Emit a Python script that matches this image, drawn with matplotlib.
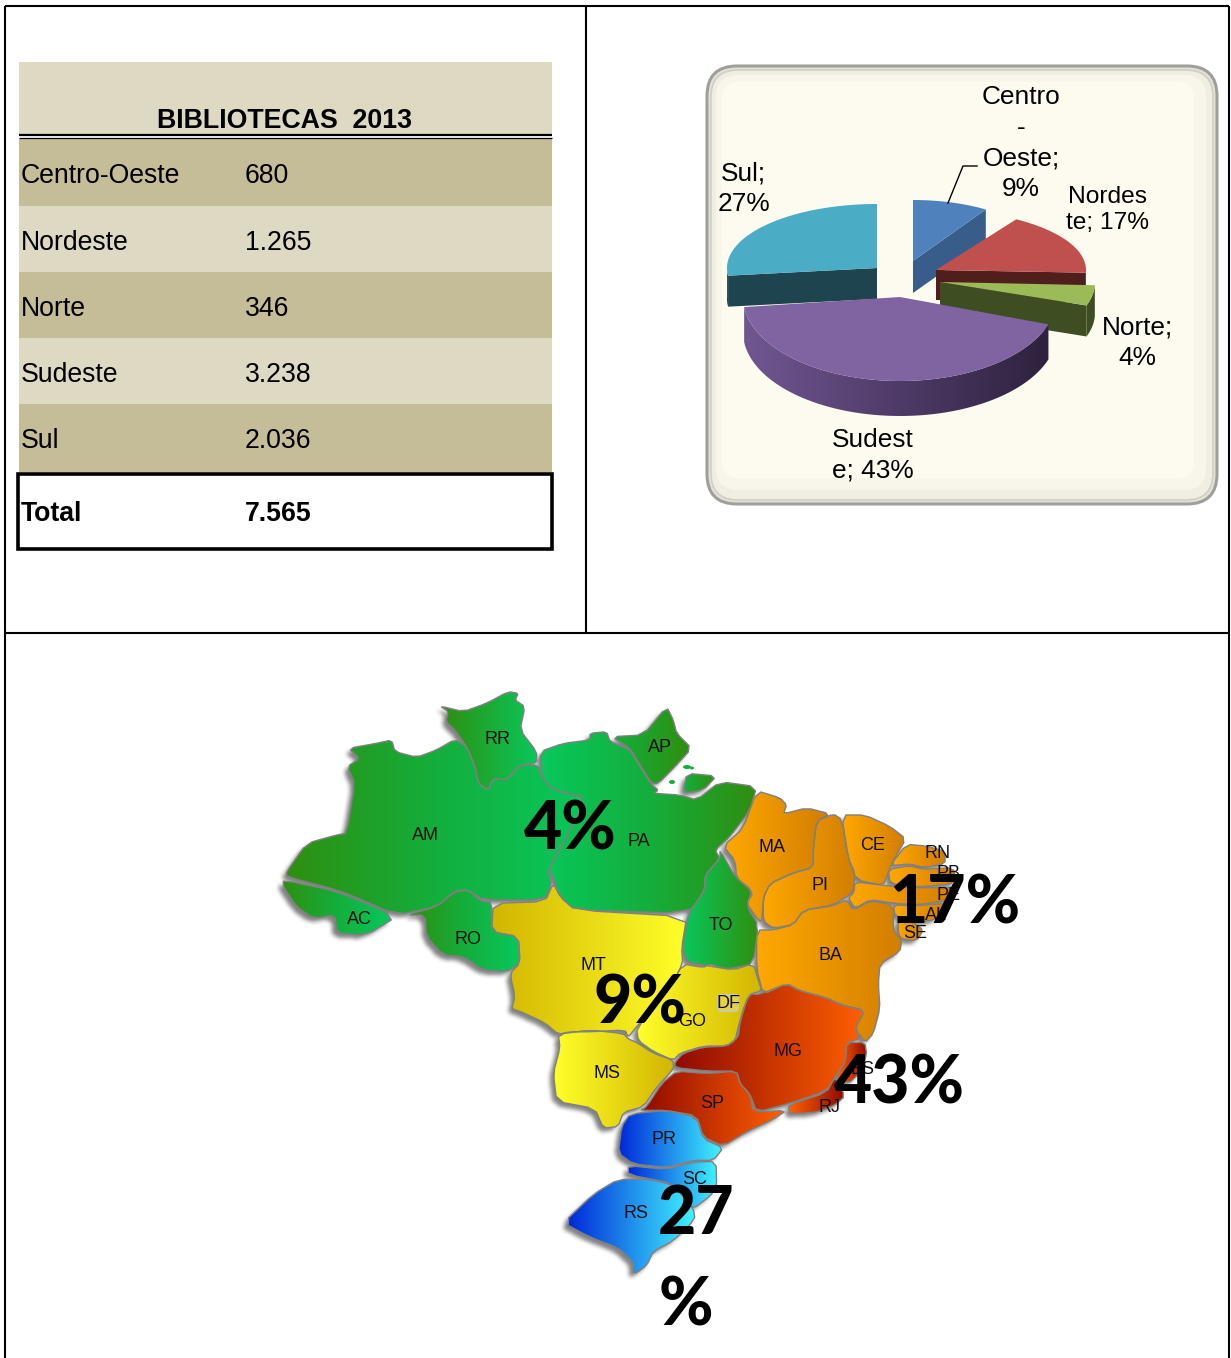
import numpy as np
import matplotlib
matplotlib.use("Agg")
import matplotlib.pyplot as plt
from matplotlib.patches import Polygon, Rectangle, FancyBboxPatch, Ellipse
from matplotlib.path import Path
from matplotlib.colors import LinearSegmentedColormap

# ---------- data ----------
table_title = "BIBLIOTECAS  2013"
regions = ["Centro-Oeste", "Nordeste", "Norte", "Sudeste", "Sul"]
libraries = [680, 1265, 346, 3238, 2036]
library_labels = ["680", "1.265", "346", "3.238", "2.036"]
total_label = "7.565"
pie_labels = ["Centro\n-\nOeste;\n9%", "Nordes\nte; 17%", "Norte;\n4%", "Sudest\ne; 43%", "Sul;\n27%"]
map_percent = ["4%", "17%", "9%", "43%", "27\n\n%"]

W, H = 1231, 1358
fig = plt.figure(figsize=(W / 100, H / 100), dpi=100)
ax = fig.add_axes([0, 0, 1, 1])
ax.set_xlim(0, W); ax.set_ylim(H, 0); ax.axis("off")
SANS = "Liberation Sans"
PX = 0.72


def txt(x, y, s, px, ha="left", va="center", weight="normal", family=SANS, z=20, ls=1.15, color="black"):
    ax.text(x, y, s, fontsize=px * PX, ha=ha, va=va, fontweight=weight, family=family,
            zorder=z, linespacing=ls, color=color, multialignment="center")


def grad_poly(pts, colors, z=5, edge=None, lw=1.5):
    pts = np.asarray(pts, float)
    x0, y0 = pts.min(0); x1, y1 = pts.max(0)
    cmap = LinearSegmentedColormap.from_list("g", colors)
    im = ax.imshow(np.linspace(0, 1, 256)[None, :], cmap=cmap, extent=(x0, x1, y1, y0),
                   aspect="auto", zorder=z, interpolation="bilinear")
    p = Polygon(pts, closed=True, transform=ax.transData, fc="none", ec="none")
    ax.add_patch(p)
    im.set_clip_path(p)
    if edge:
        ax.add_patch(Polygon(pts, closed=True, fc="none", ec=edge, lw=lw, zorder=z + 0.1, joinstyle="round"))


# ---------- page grid ----------
for (a, b, c, d) in [(5, 6, 5, H), (1229, 6, 1229, H), (5, 6, 1229, 6), (5, 632.5, 1229, 632.5), (586, 6, 586, 632)]:
    ax.plot([a, c], [b, d], color="black", lw=1.5, zorder=30, solid_capstyle="butt")

# ---------- table ----------
LIGHT, TAN = "#DED9C3", "#C4BD97"
ax.add_patch(Rectangle((19, 62), 533, 72, fc=LIGHT, ec="none", zorder=2))
ax.plot([19, 552], [134.5, 134.5], color="black", lw=1.6, zorder=3, solid_capstyle="butt")
ax.plot([19, 552], [138, 138], color="black", lw=0.9, zorder=3, solid_capstyle="butt")
txt(284.5, 120.5, table_title, 26.7, ha="center", weight="bold")
edges = [139, 206, 272, 338, 404, 472]
for i, (r, lab) in enumerate(zip(regions, library_labels)):
    ax.add_patch(Rectangle((19, edges[i]), 533, edges[i + 1] - edges[i], fc=TAN if i % 2 == 0 else LIGHT, ec="none", zorder=2))
    ym = (edges[i] + edges[i + 1]) / 2 + 3.5
    txt(21, ym, r, 26.6)
    txt(245, ym, lab, 26.6)
ax.add_patch(Rectangle((18, 473.5), 533.5, 75, fc="white", ec="black", lw=2.6, zorder=3))
txt(21, 514, "Total", 26.6, weight="bold")
txt(245, 514, total_label, 26.6, weight="bold")

# ---------- pie frame ----------
def rbox(x0, y0, x1, y1, r, **kw):
    ax.add_patch(FancyBboxPatch((x0 + r, y0 + r), x1 - x0 - 2 * r, y1 - y0 - 2 * r,
                                boxstyle=f"round,pad={r},rounding_size={r}", **kw))


rbox(707, 66, 1217, 504, 30, fc="#E4E2D6", ec="#9F9F9C", lw=2.2, zorder=2)
rbox(711, 70, 1213, 500, 27, fc="#F0EEE2", ec="#D0CFC7", lw=1.2, zorder=2.1)
rbox(716, 75, 1206, 490, 22, fc="#F8F6EA", ec="none", zorder=2.15)
rbox(722, 82, 1194, 478, 16, fc="#FDFBEF", ec="none", zorder=2.2)

# ---------- pie ----------
frac = np.array(libraries, float) / sum(libraries)
ang = np.concatenate([[0], np.cumsum(frac) * 360])
geom = {  # cx, cy, rx, ry, depth
    0: (913, 261, 136, 61, 32),
    1: (936, 270, 150, 60, 30),
    2: (940, 282, 155, 72, 31),
    3: (900, 297, 157, 84, 35),
    4: (877, 268, 150, 64, 31),
}
tops = ["#4F81BD", "#C0504D", "#9BBB59", "#8064A2", "#4BACC6"]
sides = ["#385D8A", "#501F1D", "#3F4D22", "#5A4574", "#1E4450"]


def arc(i, a0, a1, dy=0):
    cx, cy, rx, ry, _ = geom[i]
    t = np.radians(np.linspace(a0, a1, 80))
    return np.c_[cx + rx * np.sin(t), cy - ry * np.cos(t) + dy]


def radial_face(i, a, z):
    cx, cy, rx, ry, d = geom[i]
    e = arc(i, a, a)[0]
    ax.add_patch(Polygon([(cx, cy), e, e + [0, d], (cx, cy + d)], fc=sides[i], ec="none", zorder=z))


for i, z, face_a in [(4, 6, ang[4]), (0, 7, ang[1]), (1, 8, ang[2]), (2, 9, ang[3])]:
    a0, a1 = ang[i], ang[i + 1]
    radial_face(i, face_a, z)
    cx, cy, rx, ry, d = geom[i]
    if i == 2:
        r = np.vstack([arc(i, a0, a1), arc(i, a0, a1, d)[::-1]])
        ax.add_patch(Polygon(r, fc=sides[i], ec="none", zorder=z))
    if i == 4:
        r = np.vstack([arc(i, a0, 272), arc(i, a0, 272, d)[::-1]])
        ax.add_patch(Polygon(r, fc=sides[i], ec="none", zorder=z))
    ax.add_patch(Polygon(np.vstack([[(cx, cy)], arc(i, a0, a1)]), fc=tops[i], ec="none", zorder=z + 0.2))

cx, cy, rx, ry, d = geom[3]
rim = np.vstack([arc(3, ang[3], ang[4]), arc(3, ang[3], ang[4], d)[::-1]])
grad_poly(rim, ["#715792", "#4F3B69", "#2E223D"], z=10)
ax.add_patch(Polygon(np.vstack([[(cx, cy)], arc(3, ang[3], ang[4])]), fc=tops[3], ec="none", zorder=11))

ax.plot([948, 963, 977], [203, 166, 166], color="black", lw=1, zorder=12)
txt(1021, 143, pie_labels[0], 26.3, ha="center", ls=1.34)
txt(1108, 210, pie_labels[1], 24.5, ha="center", ls=1.27)
txt(1137.5, 343, pie_labels[2], 26.3, ha="center", ls=1.34)
txt(873, 455, pie_labels[3], 26.3, ha="center", ls=1.34)
txt(743.5, 188.5, pie_labels[4], 26.3, ha="center", ls=1.34)

# ---------- map ----------
def z2(p):
    return [(270 + x / 3, 680 + y / 3) for x, y in p]


def z3(p):
    return [(540 + x / 3, 780 + y / 2.8) for x, y in p]


def smooth(pts, n=1, c=.18):
    pts = np.asarray(pts, float)
    for _ in range(n):
        a = pts; b = np.roll(pts, -1, axis=0)
        q = (1 - c) * a + c * b; r = c * a + (1 - c) * b
        pts = np.empty((2 * len(a), 2)); pts[0::2] = q; pts[1::2] = r
    return pts


G1, G2, G3 = "#2E8F10", "#14AE3C", "#08C85C"
YD, YL = "#D2B500", "#FFFF2A"
RD, RL = "#900A00", "#FF6000"
BD, BL = "#0028D8", "#40F4FF"
OL, OD = "#FFA800", "#D27E00"
states = [
    (z2([(235,205),(320,190),(365,180),(375,215),(440,232),(500,210),(555,178),(590,200),(615,260),(625,310),(655,332),(670,295),(710,300),(750,255),(805,255),(815,290),(850,330),(950,355),(895,460),(835,570),(845,610),(825,660),(640,660),(595,630),(555,632),(500,680),(380,705),(210,632),(50,590),(50,575),(110,490),(200,465),(230,460),(255,310),(232,260),(270,235)]), [G1, G2, G3]),
    (z2([(40,600),(205,635),(380,710),(290,765),(200,760),(195,705),(130,715),(80,680),(40,620)]), [G1, G2, G3]),
    (z2([(410,705),(500,680),(555,635),(595,630),(635,665),(665,665),(665,755),(745,770),(750,850),(710,875),(640,870),(580,830),(520,825),(470,770),(465,705)]), [G1, G2, G3]),
    (z2([(510,78),(580,95),(650,70),(715,35),(745,40),(735,60),(765,80),(750,150),(800,215),(800,250),(750,255),(710,300),(670,295),(655,330),(625,310),(615,260),(590,200),(555,150),(528,125),(535,95)]), [G1, G3]),
    (z2([(810,215),(880,190),(960,180),(960,160),(1010,155),(1020,185),(1080,210),(1110,260),(1145,315),(1165,330),(1150,340),(1230,345),(1280,360),(1350,305),(1460,320),(1440,390),(1380,470),(1335,510),(1350,535),(1305,585),(1305,630),(1255,700),(915,690),(870,650),(845,580),(835,570),(895,460),(950,355),(850,330),(815,290)]), [G3, G2, G1]),
    (z2([(1025,170),(1120,165),(1190,80),(1210,120),(1220,160),(1265,205),(1210,265),(1165,310),(1145,310),(1110,255),(1080,205)]), [G2, G1]),
    (z2([(1250,280),(1340,288),(1300,330),(1240,340)]), [G2, G1]),
    (z2([(1350,510),(1395,590),(1445,630),(1430,680),(1465,735),(1450,850),(1390,870),(1300,855),(1250,845),(1238,800),(1255,700),(1305,630),(1305,585),(1350,535)]), [G3, G1]),
    (z2([(665,755),(670,670),(825,665),(850,610),(870,650),(915,690),(1250,710)]) + z3([(425,470),(428,515),(385,590),(290,690),(265,720),(255,700),(150,705),(90,705),(55,712),(15,680),(-55,650),(-85,640)]) + z2([(735,950),(720,880),(750,850),(745,770)]), [YD, YL]),
    (z3([(428,515),(490,525),(510,515),(560,530),(640,515),(655,560),(665,590),(630,600),(610,640),(598,680),(585,730),(560,745),(490,745),(420,765),(400,785),(340,760),(295,730),(290,695),(385,590)]), [YL, YD]),
    (z3([(55,712),(150,700),(250,710),(265,725),(290,735),(340,765),(400,785),(400,810),(350,860),(310,915),(250,930),(235,970),(190,975),(165,920),(50,900),(40,820),(60,750)]), [YL, YD]),
    (z3([(405,790),(430,765),(490,748),(560,745),(595,720),(600,680),(625,600),(660,600),(740,570),(780,590),(860,610),(905,630),(975,645),(945,695),(960,725),(920,735),(915,790),(890,825),(860,870),(750,905),(650,930),(630,880),(600,850),(590,815),(500,815),(405,805)]), [RD, RL]),
    (z3([(920,735),(975,735),(980,770),(960,820),(925,850),(885,830),(915,790)]), [RL, RD]),
    (z3([(745,910),(860,875),(885,830),(915,885),(885,910),(830,930),(750,935)]), [RL, RD]),
    (z3([(320,915),(365,850),(410,815),(500,822),(590,815),(600,850),(630,880),(640,930),(740,925),(700,950),(620,985),(550,1025),(490,1000),(470,940),(380,925),(300,925)]), [RD, RL]),
    (z3([(245,970),(270,935),(380,925),(470,945),(490,1005),(550,1030),(520,1065),(460,1065),(380,1085),(280,1075),(235,1045)]), [BD, BL]),
    (z3([(265,1080),(380,1090),(460,1070),(528,1068),(530,1140),(510,1165),(460,1200),(440,1180),(400,1130),(265,1105)]), [BD, BL]),
    (z3([(70,1240),(160,1160),(235,1118),(330,1118),(400,1135),(460,1200),(465,1230),(400,1290),(340,1320),(320,1360),(280,1385),(280,1350),(235,1310),(150,1280)]), [BD, BL]),
    (z3([(650,30),(720,50),(740,70),(730,95),(800,78),(870,95),(830,115),(820,190),(820,245),(760,260),(690,290),(670,330),(665,400),(645,380),(620,345),(640,315),(590,275),(585,225),(550,185),(610,135)]), [OL, OD]),
    (z3([(880,95),(905,110),(925,220),(945,260),(940,315),(880,350),(790,365),(760,405),(700,415),(670,395),(670,330),(690,290),(760,260),(820,245),(820,190),(830,115)]), [OL, OD]),
    (z3([(905,98),(975,98),(1050,130),(1098,165),(1060,225),(1040,270),(1030,295),(950,280),(925,220)]), [OL, OD]),
    (z3([(1100,180),(1160,185),(1215,200),(1215,235),(1150,245),(1110,235),(1050,240)]), [OL, OD]),
    (z3([(1045,250),(1110,240),(1150,250),(1240,245),(1250,290),(1130,300),(1050,290)]), [OL, OD]),
    (z3([(945,285),(1030,295),(1130,302),(1250,300),(1240,335),(1130,350),(1060,345),(990,335),(945,360),(925,330),(942,315)]), [OL, OD]),
    (z3([(1060,350),(1130,352),(1220,345),(1190,390),(1120,400),(1065,380)]), [OL, OD]),
    (z3([(1075,385),(1120,400),(1150,420),(1130,450),(1085,445),(1075,430)]), [OL, OD]),
    (z3([(650,420),(700,420),(760,405),(790,365),(880,352),(920,335),(940,365),(990,338),(1060,350),(1060,420),(1085,450),(1080,480),(1020,515),(1015,570),(1020,640),(1000,710),(975,735),(945,695),(975,645),(905,630),(860,610),(780,590),(740,570),(670,600),(650,530)]), [OL, OD]),
]

# soft drop shadow, offset down-left
sx0, sx1, sy0, sy1 = 260, 1040, 670, 1300
gx, gy = np.meshgrid(np.arange(sx0, sx1), np.arange(sy0, sy1))
grid = np.c_[gx.ravel() + 0.5, gy.ravel() + 0.5]
mask = np.zeros(gx.shape, bool)
smoothed = [smooth(p) for p, _ in states]
for p in smoothed:
    mask |= Path(p).contains_points(grid).reshape(gx.shape)
blur = mask.astype(float)
k = np.ones(5) / 5
for _ in range(2):
    blur = np.apply_along_axis(lambda v: np.convolve(v, k, "same"), 0, blur)
    blur = np.apply_along_axis(lambda v: np.convolve(v, k, "same"), 1, blur)
rgba = np.zeros(gx.shape + (4,))
rgba[..., :3] = 0.3
rgba[..., 3] = blur * 0.7
ax.imshow(rgba, extent=(sx0 - 4, sx1 - 4, sy1 + 4, sy0 + 4), aspect="auto", zorder=4, interpolation="bilinear")

for p, (_, cols) in zip(smoothed, states):
    grad_poly(p, cols, z=5, edge="#808080", lw=1.0)

# Marajó islets and DF
for (x, y, rw, rh) in [(687, 767, 4, 2), (692, 768, 2, 1.5), (672, 782, 3, 2)]:
    ax.add_patch(Ellipse((x, y), 2 * rw, 2 * rh, fc="#14AE3C", ec="none", zorder=6))
ax.add_patch(FancyBboxPatch((719, 996), 18, 14, boxstyle="round,pad=1,rounding_size=3", fc="#E6D43A", ec="#C9C9B8", lw=1.5, zorder=6))

state_labels = [("AM",425.5,835),("RR",497,740),("AP",660,748),("PA",639,842),("AC",359,920),("RO",468,939),("TO",721,926),("MT",593,966),("GO",692,1022),("DF",729,1003),("MS",607,1074),("MA",772,848),("PI",820,886),("CE",873,846),("RN",938,854),("PB",949,874),("PE",948,895),("AL",936,916),("SE",915,934),("BA",830,956),("MG",788,1051),("ES",862,1070),("RJ",829,1108),("SP",712,1103),("PR",664,1140),("SC",695,1180),("RS",636,1213)]
for s, x, y in state_labels:
    txt(x, y, s, 18, ha="center", z=15, color="#111111")

PCT_FONT = "Lato"
PCT_W = 900
for s, x, y in [(map_percent[0], 570, 830), (map_percent[1], 955, 905), (map_percent[2], 640, 1005), (map_percent[3], 899, 1084)]:
    txt(x, y, s, 66, ha="center", weight=PCT_W, family=PCT_FONT, z=25)
a, b = map_percent[4].split("\n\n")
txt(696, 1215, a, 66, ha="center", weight=PCT_W, family=PCT_FONT, z=25)
txt(685.5, 1306, b, 66, ha="center", weight=PCT_W, family=PCT_FONT, z=25)

ax.set_xlim(0, W); ax.set_ylim(H, 0)
fig.savefig("out.png", dpi=100, facecolor="white")
